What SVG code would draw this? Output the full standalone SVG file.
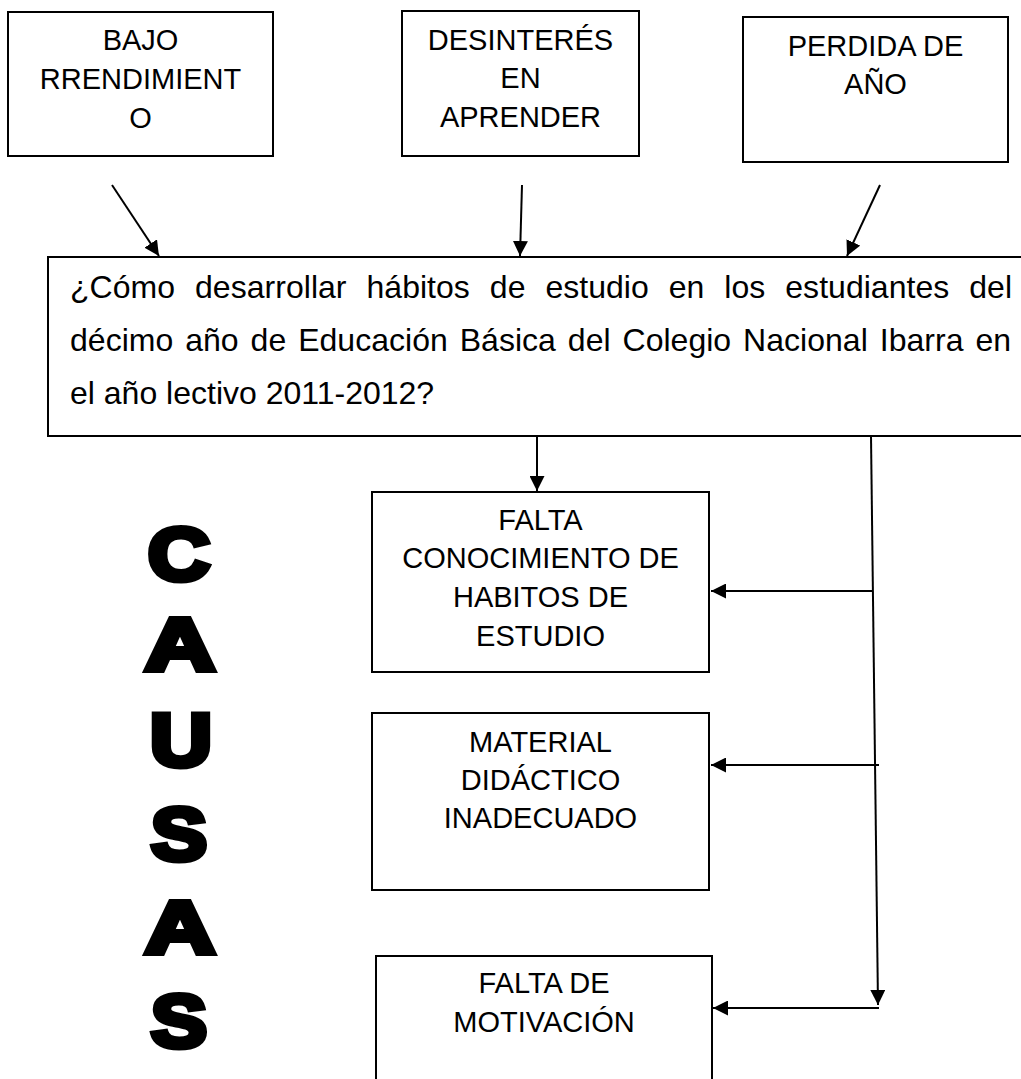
<svg xmlns="http://www.w3.org/2000/svg" width="1021" height="1079" viewBox="0 0 1021 1079">
<defs>
<marker id="ah" markerUnits="userSpaceOnUse" markerWidth="16" markerHeight="15" refX="15" refY="7.5" orient="auto" viewBox="0 0 16 15"><path d="M0,0 L15,7.5 L0,15 z" fill="#000"/></marker>
</defs>
<style>
.box{fill:#fff;stroke:#000;stroke-width:2}
.t{font-family:"Liberation Sans",Arial,sans-serif;font-size:29px;fill:#000;text-anchor:middle}
.m{font-family:"Liberation Sans",Arial,sans-serif;font-size:32px;fill:#000}
.big{font-family:"Liberation Sans",Arial,sans-serif;font-weight:bold;font-size:75px;fill:#000;stroke:#000;stroke-width:6;stroke-linejoin:miter}
.c{stroke:#000;stroke-width:2;fill:none}
</style>
<rect width="1021" height="1079" fill="#fff"/>
<g id="bajo">
<rect class="box" x="8" y="12" width="265" height="144"/>
<text class="t" x="140.5" y="50">BAJO</text>
<text class="t" x="140.5" y="89">RRENDIMIENT</text>
<text class="t" x="140.5" y="128">O</text>
</g>
<g id="desinteres">
<rect class="box" x="402" y="11" width="237" height="145"/>
<text class="t" x="520.5" y="50">DESINTERÉS</text>
<text class="t" x="520.5" y="88">EN</text>
<text class="t" x="520.5" y="127">APRENDER</text>
</g>
<g id="perdida">
<rect class="box" x="743" y="17" width="265" height="145"/>
<text class="t" x="875.5" y="56">PERDIDA DE</text>
<text class="t" x="875.5" y="94">AÑO</text>
</g>
<g id="pregunta">
<rect class="box" x="48" y="257" width="990" height="179"/>
<text class="m" x="70" y="298" word-spacing="11" textLength="942" lengthAdjust="spacing">¿Cómo desarrollar hábitos de estudio en los estudiantes del</text>
<text class="m" x="70" y="351" word-spacing="3" textLength="941" lengthAdjust="spacing">décimo año de Educación Básica del Colegio Nacional Ibarra en</text>
<text class="m" x="70" y="404">el año lectivo 2011-2012?</text>
</g>
<g id="falta-conocimiento">
<rect class="box" x="372" y="492" width="337" height="180"/>
<text class="t" x="540.5" y="530">FALTA</text>
<text class="t" x="540.5" y="568">CONOCIMIENTO DE</text>
<text class="t" x="540.5" y="607">HABITOS DE</text>
<text class="t" x="540.5" y="646">ESTUDIO</text>
</g>
<g id="material">
<rect class="box" x="372" y="713" width="337" height="177"/>
<text class="t" x="540.5" y="752">MATERIAL</text>
<text class="t" x="540.5" y="790">DIDÁCTICO</text>
<text class="t" x="540.5" y="828">INADECUADO</text>
</g>
<g id="motivacion">
<rect class="box" x="376" y="956" width="336" height="140"/>
<text class="t" x="544" y="993">FALTA DE</text>
<text class="t" x="544" y="1032">MOTIVACIÓN</text>
</g>
<g id="causas">
<text class="big" x="148" y="580" textLength="62" lengthAdjust="spacingAndGlyphs">C</text>
<text class="big" x="145" y="670" textLength="70" lengthAdjust="spacingAndGlyphs">A</text>
<text class="big" x="150" y="766" textLength="62" lengthAdjust="spacingAndGlyphs">U</text>
<text class="big" x="151" y="860" textLength="56" lengthAdjust="spacingAndGlyphs">S</text>
<text class="big" x="145" y="953" textLength="70" lengthAdjust="spacingAndGlyphs">A</text>
<text class="big" x="151" y="1047" textLength="56" lengthAdjust="spacingAndGlyphs">S</text>
</g>
<g id="connectors">
<line class="c" x1="112" y1="185" x2="159" y2="256" marker-end="url(#ah)"/>
<line class="c" x1="522" y1="185" x2="520" y2="256" marker-end="url(#ah)"/>
<line class="c" x1="880" y1="185" x2="847" y2="256" marker-end="url(#ah)"/>
<line class="c" x1="537" y1="436" x2="537" y2="491" marker-end="url(#ah)"/>
<line class="c" x1="871" y1="436" x2="878" y2="1005" marker-end="url(#ah)"/>
<line class="c" x1="872" y1="591" x2="711" y2="591" marker-end="url(#ah)"/>
<line class="c" x1="879" y1="765" x2="711" y2="765" marker-end="url(#ah)"/>
<line class="c" x1="879" y1="1008" x2="713" y2="1008" marker-end="url(#ah)"/>
</g>
</svg>
